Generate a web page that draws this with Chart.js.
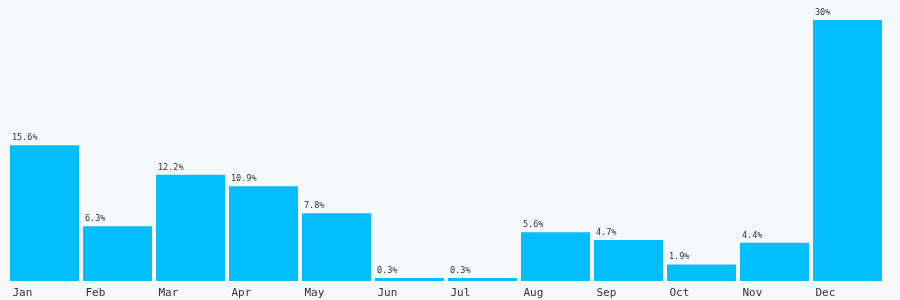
<!DOCTYPE html>
<html><head><meta charset="utf-8">
<script src="https://cdn.jsdelivr.net/npm/chart.js@4"></script>
<style>html,body{margin:0;padding:0;background:#f7f8fa;}#wrap{width:900px;height:300px;}</style>
</head><body><div id="wrap"><canvas id="c" width="900" height="300"></canvas></div>
<script>
const months = ['Jan','Feb','Mar','Apr','May','Jun','Jul','Aug','Sep','Oct','Nov','Dec'];
const shares = [15.6, 6.3, 12.2, 10.9, 7.8, 0.3, 0.3, 5.6, 4.7, 1.9, 4.4, 30];
const valueLabels = shares.map(v => v + '%');

const valuePlugin = {
  id: 'valueLabels',
  afterDatasetsDraw(chart) {
    const ctx = chart.ctx;
    const meta = chart.getDatasetMeta(0);
    ctx.save();
    ctx.font = '8.5px "DejaVu Sans Mono", monospace';
    ctx.fillStyle = '#333';
    ctx.textAlign = 'left';
    ctx.textBaseline = 'alphabetic';
    meta.data.forEach((bar, i) => {
      const left = bar.x - bar.width / 2;
      ctx.fillText(valueLabels[i], left + 2, bar.y - 5);
    });
    ctx.restore();
  }
};

new Chart(document.getElementById('c'), {
  type: 'bar',
  data: { labels: months, datasets: [{ data: shares, backgroundColor: '#03befc', borderWidth: 0, barPercentage: 0.945, categoryPercentage: 1, minBarLength: 3 }] },
  options: {
    responsive: false, animation: false,
    layout: { padding: { top: 20, left: 8, right: 16, bottom: 0 } },
    plugins: { legend: { display: false }, tooltip: { enabled: false } },
    scales: {
      x: { grid: { display: false, drawTicks: false }, border: { display: false },
           afterFit: s => { s.height = 19; },
           ticks: { align: 'start', labelOffset: -32, padding: 6, color: '#333', font: { family: '"DejaVu Sans Mono", monospace', size: 11 } } },
      y: { display: false, min: 0, max: 30 }
    }
  },
  plugins: [valuePlugin]
});
</script></body></html>
